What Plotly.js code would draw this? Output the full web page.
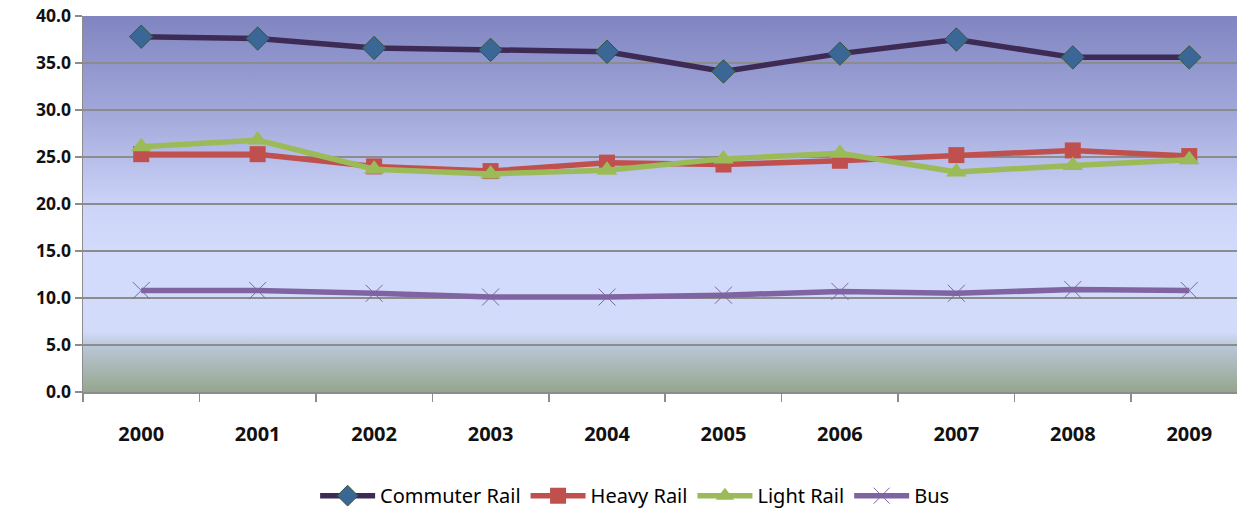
<!DOCTYPE html>
<html>
<head>
<meta charset="utf-8">
<script src="https://cdn.plot.ly/plotly-3.0.1.min.js"></script>
<style>
html,body{margin:0;padding:0;background:#fff;}
#chart{width:1237px;height:511px;}
</style>
</head>
<body>
<div id="chart"></div>
<script>
const years = ['2000','2001','2002','2003','2004','2005','2006','2007','2008','2009'];
const commuterRail = [37.8, 37.6, 36.6, 36.4, 36.2, 34.1, 36.0, 37.5, 35.6, 35.6];
const heavyRail    = [25.3, 25.3, 24.0, 23.5, 24.4, 24.2, 24.6, 25.2, 25.7, 25.1];
const lightRail    = [26.1, 26.8, 23.7, 23.2, 23.6, 24.8, 25.4, 23.4, 24.1, 24.7];
const bus          = [10.8, 10.8, 10.5, 10.1, 10.1, 10.3, 10.7, 10.5, 10.9, 10.8];
const yTicks = [0, 5, 10, 15, 20, 25, 30, 35, 40];

const gradSvg = '<svg xmlns="http://www.w3.org/2000/svg" width="100" height="376" preserveAspectRatio="none">' +
  '<defs><linearGradient id="g" x1="0" y1="0" x2="0" y2="1">' +
  '<stop offset="0" stop-color="#8085c1"/>' +
  '<stop offset="0.25" stop-color="#a1a7d9"/>' +
  '<stop offset="0.5" stop-color="#cbd3f8"/>' +
  '<stop offset="0.62" stop-color="#d3dbfc"/>' +
  '<stop offset="0.84" stop-color="#d2dbfa"/>' +
  '<stop offset="0.88" stop-color="#b9c6d6"/>' +
  '<stop offset="1" stop-color="#96a68d"/>' +
  '</linearGradient></defs><rect width="100" height="376" fill="url(#g)"/></svg>';

const traces = [
  {name:'Commuter Rail', x:years, y:commuterRail, type:'scatter', mode:'lines+markers',
   line:{color:'#3d2b56', width:5.5},
   marker:{symbol:'diamond', size:18, color:'#3b6797', line:{color:'#37573a', width:1}}},
  {name:'Heavy Rail', x:years, y:heavyRail, type:'scatter', mode:'lines+markers',
   line:{color:'#c0504d', width:5.5},
   marker:{symbol:'square', size:16, color:'#c0504d'}},
  {name:'Light Rail', x:years, y:lightRail, type:'scatter', mode:'lines+markers',
   line:{color:'#9bbb59', width:5.5},
   marker:{symbol:'triangle-up', size:18, color:'#9bbb59'}},
  {name:'Bus', x:years, y:bus, type:'scatter', mode:'lines+markers',
   line:{color:'#8064a2', width:5.5},
   marker:{symbol:'x-thin-open', size:17, color:'#8064a2', line:{color:'#8064a2', width:1}}}
];

const layout = {
  width:1237, height:511,
  margin:{l:83, r:0, t:16, b:119, autoexpand:false},
  paper_bgcolor:'#ffffff',
  plot_bgcolor:'rgba(0,0,0,0)',
  font:{family:'"Noto Sans", "Open Sans", sans-serif', color:'#000'},
  showlegend:true,
  legend:{orientation:'h', x:0.478, xanchor:'center', yref:'container', y:0.03, yanchor:'middle',
          font:{size:20, family:'"Noto Sans", sans-serif', color:'#000'}, itemwidth:55, traceorder:'normal'},
  images:[{source:'data:image/svg+xml;charset=utf-8,' + encodeURIComponent(gradSvg),
           xref:'paper', yref:'paper', x:0, y:1, sizex:1, sizey:1, sizing:'stretch', layer:'below'}],
  xaxis:{type:'category', range:[-0.5, 9.41], showgrid:false, zeroline:false,
         showline:true, linecolor:'#8c8c8c', linewidth:1.5,
         ticks:'outside', tickson:'boundaries', ticklen:8, tickcolor:'#8c8c8c', tickwidth:1.5,
         ticklabelstandoff:23,
         tickfont:{size:20, family:'"Noto Sans", sans-serif', weight:'bold', color:'#111'}},
  yaxis:{range:[0, 40], tickvals:yTicks, ticktext:yTicks.map(v=>v.toFixed(1)),
         showgrid:true, gridcolor:'#8c8c8c', gridwidth:1.5, zeroline:false,
         showline:true, linecolor:'#8c8c8c', linewidth:1.5,
         ticks:'outside', ticklen:7, tickcolor:'#8c8c8c', tickwidth:1.5,
         tickfont:{size:17.5, family:'"Noto Sans", sans-serif', weight:'bold', color:'#111'}}
};

Plotly.newPlot('chart', traces, layout, {displayModeBar:false, staticPlot:true});
</script>
</body>
</html>
